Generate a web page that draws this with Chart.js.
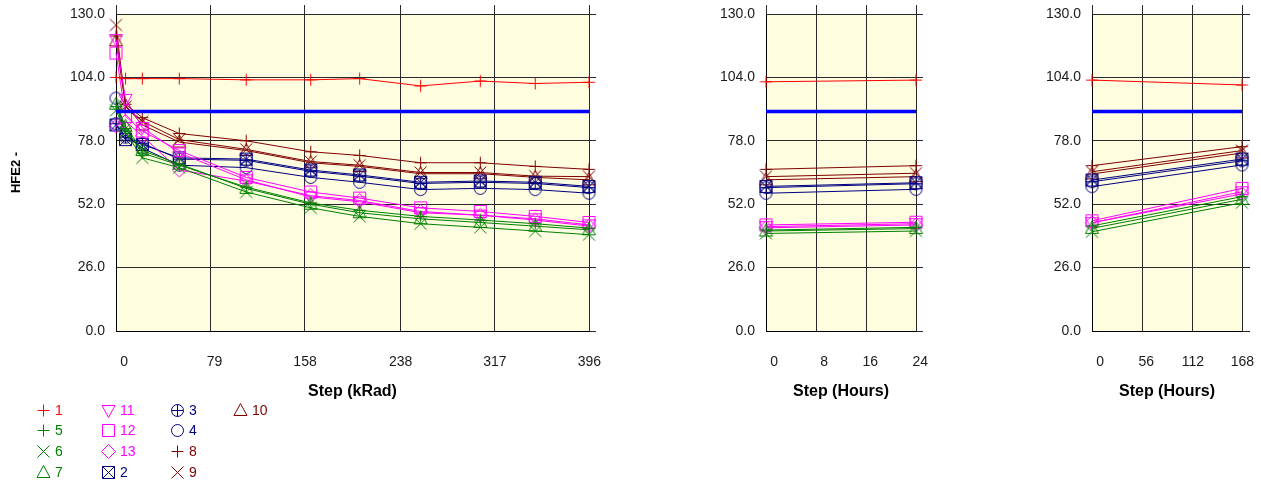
<!DOCTYPE html>
<html>
<head>
<meta charset="utf-8">
<script src="https://cdn.jsdelivr.net/npm/chart.js@4.4.1/dist/chart.umd.min.js"></script>
<style>
  html, body { margin: 0; padding: 0; background: #ffffff; }
  body { width: 1261px; height: 486px; position: relative; overflow: hidden;
         font-family: Arial, "Liberation Sans", sans-serif; }
  canvas.panel { position: absolute; top: 0; }
  .lg-mark { position: absolute; }
  .lg-text { position: absolute; font-size: 14px; line-height: 16px; white-space: nowrap; }
</style>
</head>
<body>
<canvas id="cKrad" class="panel" width="620" height="405" style="left:0px"></canvas>
<canvas id="cH24" class="panel" width="250" height="405" style="left:700px"></canvas>
<canvas id="cH168" class="panel" width="231" height="405" style="left:1030px"></canvas>
<div id="legend"></div>
<script>
// ---- axis ticks ----
const hfeTicks = [0, 26, 52, 78, 104, 130];
const kRadTicks = [0, 79, 158, 238, 317, 396];
const hr24Ticks = [0, 8, 16, 24];
const hr168Ticks = [0, 56, 112, 168];
const hfeLimit = 90;

// ---- steps ----
const kRadSteps = [0, 8, 22, 53, 109, 163, 204, 255, 305, 351, 396];
const hr24Steps = [0, 24];
const hr168Steps = [0, 168];

// ---- HFE2 vs total dose ----
const kRad_S1  = [104, 103.5, 103.5, 103.5, 103, 103, 103.5, 100.5, 102.5, 101.5, 102];
const kRad_S5  = [92, 83, 73, 68, 59, 52.5, 49.5, 47, 45.5, 44, 42.2];
const kRad_S6  = [90.5, 81.5, 71, 67, 57, 50.5, 47, 44, 42.5, 41, 39.5];
const kRad_S7  = [93, 84, 74, 68.5, 58.5, 52, 48.5, 46, 44.5, 43, 41.5];
const kRad_S11 = [119.5, 95, 83.5, 73, 62, 55, 53, 48.5, 47.5, 46, 43.5];
const kRad_S12 = [114, 88, 82, 74, 63, 57, 54.5, 50.5, 49, 47, 44.5];
const kRad_S13 = [84, 86, 80, 66, 61.5, 55.5, 53.5, 49, 47.5, 45.5, 43];
const kRad_S2  = [84.5, 78.5, 76.5, 71, 70.5, 66, 64, 61, 61.5, 61, 59.3];
const kRad_S3  = [85, 79.5, 77, 70.5, 70, 65.5, 63.5, 60.5, 61, 60.5, 58.8];
const kRad_S4  = [95.5, 80.5, 75, 68, 67, 63, 61, 58, 58.5, 58, 56.5];
const kRad_S8  = [121, 93, 87.5, 81, 78, 73.5, 72, 69, 69, 67.5, 66.3];
const kRad_S9  = [125.5, 92, 86, 78.5, 74.5, 69.5, 68, 65, 65, 63.5, 63.3];
const kRad_S10 = [119, 92.5, 84.5, 77.5, 74, 69, 67.5, 64.5, 64.5, 63, 62];

// ---- HFE2 during 24 h anneal ----
const hr24_S1  = [102.2, 102.9];
const hr24_S5  = [41.4, 42.5];
const hr24_S6  = [40, 41];
const hr24_S7  = [41, 42];
const hr24_S11 = [42.8, 44];
const hr24_S12 = [43.5, 44.6];
const hr24_S13 = [42.3, 43.5];
const hr24_S2  = [59.3, 60.8];
const hr24_S3  = [58.8, 60.4];
const hr24_S4  = [56.5, 58.1];
const hr24_S8  = [66.3, 67.8];
const hr24_S9  = [63.3, 64.7];
const hr24_S10 = [62, 63.3];

// ---- HFE2 during 168 h anneal ----
const hr168_S1  = [102.9, 100.9];
const hr168_S5  = [43.1, 55.1];
const hr168_S6  = [40.7, 52.6];
const hr168_S7  = [42.1, 54];
const hr168_S11 = [44.4, 57.1];
const hr168_S12 = [45.2, 58.5];
const hr168_S13 = [44.4, 56.2];
const hr168_S2  = [61.9, 70.5];
const hr168_S3  = [61.2, 69.8];
const hr168_S4  = [59.2, 68.1];
const hr168_S8  = [67.8, 75.6];
const hr168_S9  = [65.3, 74];
const hr168_S10 = [64.4, 73];

// legend order (column by column) and per-series appearance
const seriesNames = ['1', '5', '6', '7', '11', '12', '13', '2', '3', '4', '8', '9', '10'];
const RED = '#ff0000', GREEN = '#008000', MAGENTA = '#ff00ff', NAVY = '#000080', MAROON = '#800000';
const seriesColor = { '1': RED, '5': GREEN, '6': GREEN, '7': GREEN, '11': MAGENTA, '12': MAGENTA,
  '13': MAGENTA, '2': NAVY, '3': NAVY, '4': NAVY, '8': MAROON, '9': MAROON, '10': MAROON };
const seriesShape = { '1': 'plus', '5': 'plus', '6': 'cross', '7': 'triUp', '11': 'triDown',
  '12': 'square', '13': 'diamond', '2': 'boxCross', '3': 'circlePlus', '4': 'circle',
  '8': 'plus', '9': 'cross', '10': 'triUp' };

const kRadTable = { '1': kRad_S1, '5': kRad_S5, '6': kRad_S6, '7': kRad_S7, '11': kRad_S11, '12': kRad_S12,
  '13': kRad_S13, '2': kRad_S2, '3': kRad_S3, '4': kRad_S4, '8': kRad_S8, '9': kRad_S9, '10': kRad_S10 };
const hr24Table = { '1': hr24_S1, '5': hr24_S5, '6': hr24_S6, '7': hr24_S7, '11': hr24_S11, '12': hr24_S12,
  '13': hr24_S13, '2': hr24_S2, '3': hr24_S3, '4': hr24_S4, '8': hr24_S8, '9': hr24_S9, '10': hr24_S10 };
const hr168Table = { '1': hr168_S1, '5': hr168_S5, '6': hr168_S6, '7': hr168_S7, '11': hr168_S11, '12': hr168_S12,
  '13': hr168_S13, '2': hr168_S2, '3': hr168_S3, '4': hr168_S4, '8': hr168_S8, '9': hr168_S9, '10': hr168_S10 };

const FONT = 'Arial, "Liberation Sans", sans-serif';
const GRID = '#2a2a2a';

// open-outline marker glyphs used both on the plots and in the legend
function makeMarker(shape, color) {
  const c = document.createElement('canvas');
  c.width = 17; c.height = 17;
  const g = c.getContext('2d');
  g.strokeStyle = color; g.lineWidth = 1;
  const m = 8.5;
  g.beginPath();
  switch (shape) {
    case 'plus':
      g.moveTo(m - 6, m); g.lineTo(m + 6, m); g.moveTo(m, m - 6); g.lineTo(m, m + 6); break;
    case 'cross':
      g.moveTo(m - 6, m - 6); g.lineTo(m + 6, m + 6); g.moveTo(m + 6, m - 6); g.lineTo(m - 6, m + 6); break;
    case 'triUp':
      g.moveTo(m, m - 7); g.lineTo(m + 6.5, m + 5); g.lineTo(m - 6.5, m + 5); g.closePath(); break;
    case 'triDown':
      g.moveTo(m, m + 7); g.lineTo(m + 6.5, m - 5); g.lineTo(m - 6.5, m - 5); g.closePath(); break;
    case 'square':
      g.rect(m - 6, m - 6, 12, 12); break;
    case 'diamond':
      g.moveTo(m, m - 7); g.lineTo(m + 7, m); g.lineTo(m, m + 7); g.lineTo(m - 7, m); g.closePath(); break;
    case 'circle':
      g.arc(m, m, 6, 0, Math.PI * 2); break;
    case 'circlePlus':
      g.arc(m, m, 6, 0, Math.PI * 2);
      g.moveTo(m - 6, m); g.lineTo(m + 6, m); g.moveTo(m, m - 6); g.lineTo(m, m + 6); break;
    case 'boxCross':
      g.rect(m - 6, m - 6, 12, 12);
      g.moveTo(m - 6, m - 6); g.lineTo(m + 6, m + 6); g.moveTo(m + 6, m - 6); g.lineTo(m - 6, m + 6); break;
  }
  g.stroke();
  return c;
}

const plotBg = {
  id: 'plotBg',
  beforeDraw(chart, args, opts) {
    const { ctx, chartArea: a } = chart;
    ctx.save();
    ctx.fillStyle = opts.color;
    ctx.fillRect(a.left, a.top, a.right - a.left, a.bottom - a.top);
    ctx.restore();
  }
};

function setTicks(list) {
  return (scale) => { scale.ticks = list.map(v => ({ value: v })); };
}
// fixed axis band sizes; tick labels may overhang the plot edges
function fixHeight(h) {
  return (s) => { s.height = h; s.paddingLeft = 0; s.paddingRight = 0; };
}
function fixWidth(w) {
  return (s) => { s.width = w; s.paddingTop = 0; s.paddingBottom = 0; };
}

function makePanel(id, steps, table, xTicks, xTitle, geom) {
  const xMax = xTicks[xTicks.length - 1];
  const datasets = [{
    label: 'limit',
    data: [{ x: 0, y: hfeLimit }, { x: xMax, y: hfeLimit }],
    borderColor: '#0000ff', borderWidth: 3.5, pointRadius: 0, clip: false
  }];
  seriesNames.forEach(name => {
    const vals = table[name];
    datasets.push({
      label: name,
      data: steps.map((x, i) => ({ x: x, y: vals[i] })),
      borderColor: seriesColor[name],
      borderWidth: 1,
      pointStyle: makeMarker(seriesShape[name], seriesColor[name]),
      pointRadius: 6,
      tension: 0,
      clip: false
    });
  });

  return new Chart(document.getElementById(id), {
    type: 'line',
    data: { datasets },
    plugins: [plotBg],
    options: {
      responsive: false,
      animation: false,
      events: [],
      layout: { padding: { top: 5, left: 0, right: geom.padRight, bottom: 0 } },
      plugins: {
        legend: { display: false },
        tooltip: { enabled: false },
        plotBg: { color: '#fffde0' }
      },
      scales: {
        x: {
          type: 'linear', position: 'bottom', min: 0, max: xMax,
          afterBuildTicks: setTicks(xTicks),
          afterFit: fixHeight(74),
          grid: { color: GRID, lineWidth: 1, drawTicks: false },
          border: { color: '#000', width: 1 },
          ticks: {
            font: { size: 14, family: FONT }, color: '#1a1a1a', padding: 23,
            align: 'end', labelOffset: 12, maxRotation: 0, autoSkip: false,
            callback: (v) => String(v)
          },
          title: {
            display: true, text: xTitle, color: '#000',
            font: { size: 16, weight: 'bold', family: FONT },
            padding: { top: 0, bottom: 4 }
          }
        },
        xTop: {
          type: 'linear', position: 'top', min: 0, max: xMax,
          afterBuildTicks: setTicks(xTicks),
          afterFit: fixHeight(9),
          grid: { color: GRID, drawOnChartArea: false, drawTicks: true, tickLength: 9 },
          border: { display: false },
          ticks: { display: false }
        },
        y: {
          type: 'linear', position: 'left', min: 0, max: 130,
          afterBuildTicks: setTicks(hfeTicks),
          afterFit: fixWidth(geom.yWidth),
          grid: { color: GRID, lineWidth: 1, drawTicks: false },
          border: { color: '#000', width: 1 },
          ticks: {
            font: { size: 14, family: FONT }, color: '#1a1a1a', padding: 11,
            callback: (v) => Number(v).toFixed(1)
          },
          title: {
            display: !!geom.yTitle, text: geom.yTitle || '', color: '#000',
            font: { size: 13, weight: 'bold', family: FONT },
            padding: { top: 8.5, bottom: 0 }
          }
        },
        y2: {
          type: 'linear', position: 'right', min: 0, max: 130,
          afterBuildTicks: setTicks(hfeTicks),
          afterFit: fixWidth(geom.rightW),
          grid: { color: GRID, drawOnChartArea: false, drawTicks: true, tickLength: geom.rightW },
          border: { display: false },
          ticks: { display: false }
        }
      }
    }
  });
}

makePanel('cKrad', kRadSteps, kRadTable, kRadTicks, 'Step (kRad)',
  { yWidth: 116, rightW: 7, padRight: 24, yTitle: 'HFE2 -' });
makePanel('cH24', hr24Steps, hr24Table, hr24Ticks, 'Step (Hours)',
  { yWidth: 66, rightW: 7, padRight: 27 });
makePanel('cH168', hr168Steps, hr168Table, hr168Ticks, 'Step (Hours)',
  { yWidth: 62, rightW: 8, padRight: 11 });

// legend: four rows per column, filled column by column
(function buildLegend() {
  const host = document.getElementById('legend');
  const colX = [43, 108, 177, 240];
  const rowY = [410, 430, 451, 472];
  seriesNames.forEach((name, i) => {
    const cx = colX[Math.floor(i / 4)], cy = rowY[i % 4];
    const mark = makeMarker(seriesShape[name], seriesColor[name]);
    mark.className = 'lg-mark';
    mark.style.left = (cx - 8.5) + 'px';
    mark.style.top = (cy - 8.5) + 'px';
    host.appendChild(mark);
    const t = document.createElement('div');
    t.className = 'lg-text';
    t.textContent = name;
    t.style.color = seriesColor[name];
    t.style.left = (cx + 12) + 'px';
    t.style.top = (cy - 8) + 'px';
    host.appendChild(t);
  });
})();
</script>
</body>
</html>
